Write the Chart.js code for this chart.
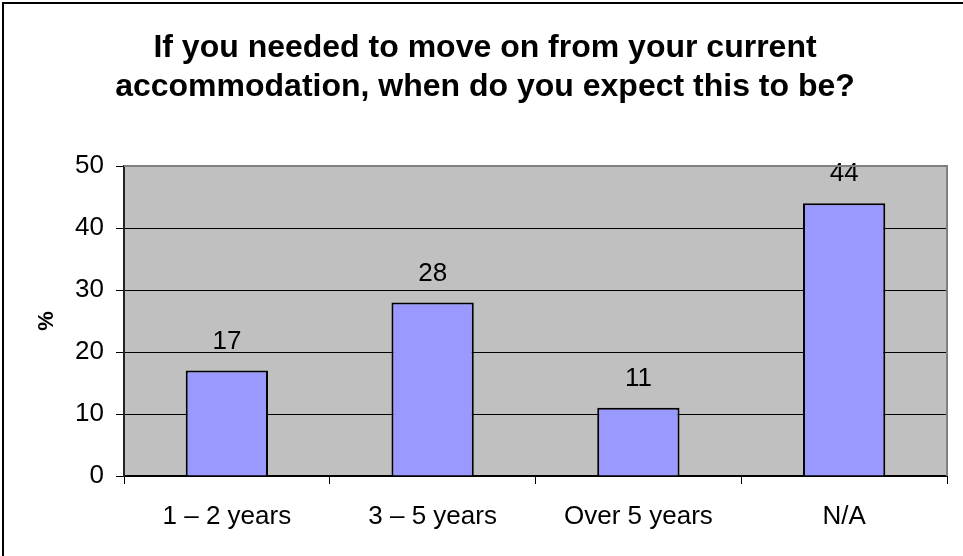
<!DOCTYPE html>
<html>
<head>
<meta charset="utf-8">
<script src="https://cdn.jsdelivr.net/npm/chart.js@4"></script>
<style>
  html, body { margin: 0; padding: 0; background: #fff; }
  canvas { display: block; }
</style>
</head>
<body>
<canvas id="moveChart" width="963" height="556"></canvas>
<script>
// chart data
const categories = ["1 \u2013 2 years", "3 \u2013 5 years", "Over 5 years", "N/A"];
const percentValues = [17, 28, 11, 44];
const titleLines = ["If you needed to move on from your current", "accommodation, when do you expect this to be?"];
const yAxisTitle = "%";

const FONT = '"Liberation Sans", Arial, sans-serif';

// grey plot area, its grey top/right edge, the outer frame and the title
const frame = {
    id: "frame",
    beforeDraw(chart) {
        const { ctx, chartArea: a } = chart;
        ctx.save();
        ctx.fillStyle = "#C0C0C0";
        ctx.fillRect(a.left, a.top, a.right - a.left, a.bottom - a.top);
        ctx.strokeStyle = "#000";
        ctx.lineWidth = 2;
        ctx.beginPath();
        ctx.moveTo(3, 556);
        ctx.lineTo(3, 3);
        ctx.lineTo(963, 3);
        ctx.stroke();

        // title spans the whole canvas width
        ctx.fillStyle = "#000";
        ctx.font = "bold 32px " + FONT;
        ctx.textAlign = "center";
        ctx.textBaseline = "middle";
        titleLines.forEach(function (line, i) {
            ctx.fillText(line, 485, 48 + i * 39);
        });
        ctx.restore();
    },
    afterDraw(chart) {
        const { ctx, chartArea: a } = chart;
        ctx.save();
        ctx.strokeStyle = "#808080";
        ctx.lineWidth = 2;
        ctx.beginPath();
        ctx.moveTo(a.left, a.top);
        ctx.lineTo(a.right, a.top);
        ctx.lineTo(a.right, a.bottom);
        ctx.stroke();
        ctx.restore();
    }
};

// value labels over the bars
const barLabels = {
    id: "barLabels",
    afterDatasetsDraw(chart) {
        const { ctx } = chart;
        const meta = chart.getDatasetMeta(0);
        ctx.save();
        ctx.font = "26px " + FONT;
        ctx.fillStyle = "#000";
        ctx.textAlign = "center";
        ctx.textBaseline = "middle";
        meta.data.forEach(function (bar, i) {
            ctx.fillText(String(percentValues[i]), bar.x, bar.y - 29);
        });
        ctx.restore();
    }
};

new Chart(document.getElementById("moveChart"), {
    type: "bar",
    data: {
        labels: categories,
        datasets: [{
            data: percentValues,
            backgroundColor: "#9999FF",
            borderColor: "#000",
            borderWidth: 2,
            barPercentage: 0.4,
            categoryPercentage: 1
        }]
    },
    options: {
        responsive: false,
        devicePixelRatio: 1,
        animation: false,
        layout: { padding: { left: 0, right: 16, top: 166, bottom: 0 } },
        plugins: {
            legend: { display: false },
            tooltip: { enabled: false },
            title: { display: false }
        },
        scales: {
            x: {
                afterFit(scale) { scale.height = 80; },
                grid: {
                    drawOnChartArea: false,
                    offset: true,
                    tickLength: 8,
                    tickColor: "#000"
                },
                border: { color: "#000", width: 2 },
                ticks: {
                    color: "#000",
                    padding: 17,
                    font: { family: FONT, size: 26 }
                }
            },
            y: {
                min: 0,
                max: 50,
                afterFit(scale) { scale.width = 124; },
                grid: {
                    color: function (c) { return c.tick && c.tick.value === 50 ? "rgba(0,0,0,0)" : "#000"; },
                    tickColor: "#000",
                    tickLength: 8,
                    lineWidth: 1
                },
                border: { color: "#222", width: 2 },
                ticks: {
                    stepSize: 10,
                    color: "#000",
                    padding: 12,
                    font: { family: FONT, size: 26 }
                },
                title: {
                    display: true,
                    text: yAxisTitle,
                    color: "#000",
                    font: { family: FONT, size: 22, weight: "bold" },
                    padding: { top: 34, bottom: 0 }
                }
            }
        }
    },
    plugins: [frame, barLabels]
});
</script>
</body>
</html>
